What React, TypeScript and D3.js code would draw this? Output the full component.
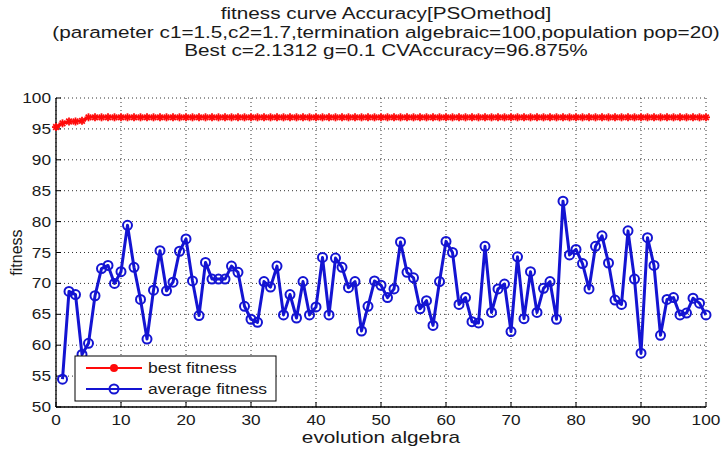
import React from "react";
import * as d3 from "d3";

const titleLines = [
  "fitness curve Accuracy[PSOmethod]",
  "(parameter c1=1.5,c2=1.7,termination algebraic=100,population pop=20)",
  "Best c=2.1312 g=0.1 CVAccuracy=96.875%",
];
const xTicks = [0, 10, 20, 30, 40, 50, 60, 70, 80, 90, 100];
const yTicks = [50, 55, 60, 65, 70, 75, 80, 85, 90, 95, 100];
const bestStart = [95.3, 95.9, 96.2, 96.2, 96.3];
const bestFinal = 96.875;
const bestGenerations = d3.range(0, 101);
const bestFitness = bestGenerations.map((g) => (g < bestStart.length ? bestStart[g] : bestFinal));
const avgGenerations = d3.range(1, 101);
const avgFitness = [
  54.5, 68.7, 68.2, 58.5, 60.3, 68.0, 72.4, 72.9, 70.0, 71.9,
  79.4, 72.6, 67.4, 61.0, 68.9, 75.3, 68.8, 70.2, 75.2, 77.2,
  70.4, 64.8, 73.4, 70.7, 70.7, 70.7, 72.8, 71.8, 66.3, 64.2,
  63.7, 70.3, 69.4, 72.8, 64.9, 68.2, 64.4, 70.3, 64.9, 66.2,
  74.2, 64.9, 74.1, 72.6, 69.3, 70.3, 62.3, 66.3, 70.4, 69.7,
  67.7, 69.1, 76.7, 71.8, 70.9, 65.9, 67.2, 63.2, 70.3, 76.8,
  75.0, 66.6, 67.7, 63.8, 63.6, 76.0, 65.3, 69.1, 69.9, 62.2,
  74.3, 64.3, 71.9, 65.3, 69.2, 70.3, 64.2, 83.3, 74.6, 75.5,
  73.2, 69.1, 76.0, 77.7, 73.3, 67.3, 66.6, 78.5, 70.7, 58.7,
  77.4, 72.9, 61.6, 67.4, 67.7, 64.9, 65.2, 67.6, 66.8, 64.9,
];
const legendLabels = ["best fitness", "average fitness"];
const xLabel = "evolution algebra";
const yLabel = "fitness";

function T(props: { x: number; y: number; sx: number; size: number; anchor?: string; children: React.ReactNode }) {
  return (
    <g transform={`translate(${props.x},${props.y}) scale(${props.sx},1)`}>
      <text x={0} y={0} fontSize={props.size} textAnchor={props.anchor || "start"} fill="#1a1a1a">
        {props.children}
      </text>
    </g>
  );
}

export default function App() {
  const W = 721, H = 452;
  const L = 56, R = 706, Tp = 98, B = 407;
  const x = d3.scaleLinear().domain([0, 100]).range([L, R]);
  const y = d3.scaleLinear().domain([50, 100]).range([B, Tp]);
  const font = "'Liberation Sans', Arial, sans-serif";
  const red = "#ff0a0a";
  const blue = "#1414d2";

  const bestLine = d3.line<number>().x((_, i) => x(bestGenerations[i])).y((d) => y(d))(bestFitness) || "";
  const avgLine = d3.line<number>().x((_, i) => x(avgGenerations[i])).y((d) => y(d))(avgFitness) || "";

  const star = (cx: number, cy: number, s: number, key: string) => (
    <g key={key} stroke={red} strokeWidth={1.8}>
      <line x1={cx - s} y1={cy} x2={cx + s} y2={cy} />
      <line x1={cx} y1={cy - s} x2={cx} y2={cy + s} />
      <line x1={cx - s * 0.7} y1={cy - s * 0.7} x2={cx + s * 0.7} y2={cy + s * 0.7} />
      <line x1={cx - s * 0.7} y1={cy + s * 0.7} x2={cx + s * 0.7} y2={cy - s * 0.7} />
    </g>
  );

  const lx = 75, ly = 356, lw = 201, lh = 45;

  return (
    <svg width={W} height={H} style={{ position: "absolute", left: 0, top: 0, background: "#fff" }} fontFamily={font}>
      <rect x={0} y={0} width={W} height={H} fill="#fff" />
      {titleLines.map((t, i) => (
        <T key={i} x={386} y={19 + i * 18.5} sx={1.22} size={17} anchor="middle">{t}</T>
      ))}
      {/* grid */}
      {xTicks.map((t) => (
        <line key={"gx" + t} x1={x(t)} x2={x(t)} y1={Tp} y2={B} stroke="#333" strokeWidth={1} strokeDasharray="1,3" />
      ))}
      {yTicks.map((t) => (
        <line key={"gy" + t} x1={L} x2={R} y1={y(t)} y2={y(t)} stroke="#333" strokeWidth={1} strokeDasharray="1,3" />
      ))}
      {/* axes */}
      <line x1={L} x2={L} y1={Tp} y2={B} stroke="#000" strokeWidth={1.3} />
      <line x1={L} x2={R} y1={B} y2={B} stroke="#000" strokeWidth={1.3} />
      {xTicks.map((t) => (
        <g key={"xt" + t}>
          <line x1={x(t)} x2={x(t)} y1={B} y2={B - 5} stroke="#000" />
          <T x={x(t)} y={B + 18} sx={1.15} size={15} anchor="middle">{t}</T>
        </g>
      ))}
      {yTicks.map((t) => (
        <g key={"yt" + t}>
          <line x1={L} x2={L + 5} y1={y(t)} y2={y(t)} stroke="#000" />
          <T x={L - 5} y={y(t) + 5} sx={1.15} size={15} anchor="end">{t}</T>
        </g>
      ))}
      <T x={381} y={443} sx={1.3} size={16} anchor="middle">{xLabel}</T>
      <text transform={`translate(22,${(Tp + B) / 2}) rotate(-90)`} textAnchor="middle" fontSize={16} fill="#1a1a1a">{yLabel}</text>
      {/* best */}
      <path d={bestLine} fill="none" stroke={red} strokeWidth={2.5} />
      {bestFitness.map((d, i) => star(x(bestGenerations[i]), y(d), 4, "s" + i))}
      {/* average */}
      <path d={avgLine} fill="none" stroke={blue} strokeWidth={3} strokeLinejoin="round" />
      {avgFitness.map((d, i) => (
        <circle key={"c" + i} cx={x(avgGenerations[i])} cy={y(d)} r={4.5} fill="none" stroke={blue} strokeWidth={2} />
      ))}
      {/* legend */}
      <rect x={lx} y={ly} width={lw} height={lh} fill="#fff" stroke="#000" strokeWidth={1} />
      <line x1={lx + 11} x2={lx + 67} y1={ly + 12} y2={ly + 12} stroke={red} strokeWidth={2} />
      <circle cx={lx + 39} cy={ly + 12} r={4} fill={red} />
      <T x={lx + 73} y={ly + 17} sx={1.17} size={15}>{legendLabels[0]}</T>
      <line x1={lx + 11} x2={lx + 67} y1={ly + 33} y2={ly + 33} stroke={blue} strokeWidth={2} />
      <circle cx={lx + 39} cy={ly + 33} r={4.5} fill="none" stroke={blue} strokeWidth={2} />
      <T x={lx + 73} y={ly + 38} sx={1.17} size={15}>{legendLabels[1]}</T>
    </svg>
  );
}
